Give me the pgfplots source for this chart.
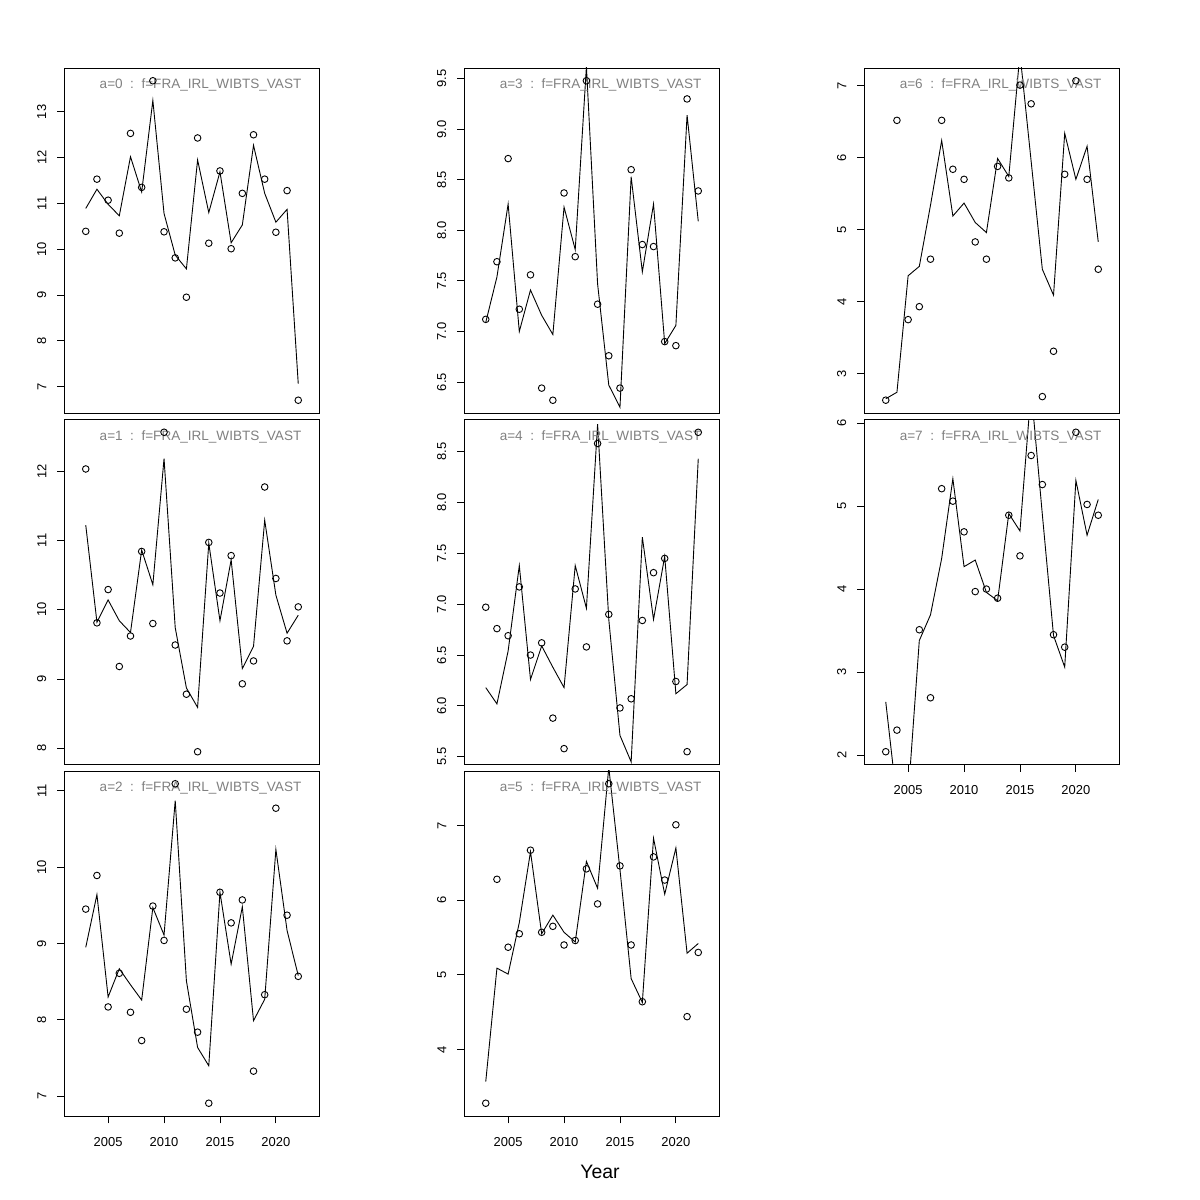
\documentclass[border=0pt]{standalone}
\usepackage{fontspec}
\setmainfont{Liberation Sans}
\usepackage{pgfplots}
\usepackage{pgfplotstable}
\pgfplotsset{compat=1.18}

\pgfplotstableread{
year obs fit
2003 10.39 10.89
2004 11.53 11.31
2005 11.07 10.98
2006 10.35 10.73
2007 12.53 12.02
2008 11.35 11.25
2009 13.68 13.25
2010 10.38 10.78
2011 9.81 9.87
2012 8.95 9.57
2013 12.43 11.95
2014 10.13 10.80
2015 11.71 11.69
2016 10.01 10.14
2017 11.22 10.53
2018 12.50 12.27
2019 11.53 11.22
2020 10.37 10.59
2021 11.28 10.87
2022 6.70 7.06
}\tA

\pgfplotstableread{
year obs fit
2003 12.03 11.22
2004 9.81 9.82
2005 10.29 10.14
2006 9.18 9.84
2007 9.62 9.67
2008 10.84 10.86
2009 9.80 10.36
2010 12.56 12.18
2011 9.49 9.74
2012 8.78 8.87
2013 7.95 8.59
2014 10.97 10.96
2015 10.24 9.84
2016 10.78 10.72
2017 8.93 9.15
2018 9.26 9.47
2019 11.77 11.29
2020 10.45 10.21
2021 9.55 9.66
2022 10.04 9.92
}\tB

\pgfplotstableread{
year obs fit
2003 9.45 8.95
2004 9.89 9.64
2005 8.17 8.30
2006 8.61 8.67
2007 8.10 8.46
2008 7.73 8.26
2009 9.49 9.47
2010 9.04 9.11
2011 11.09 10.87
2012 8.14 8.51
2013 7.84 7.64
2014 6.91 7.40
2015 9.67 9.67
2016 9.27 8.73
2017 9.57 9.48
2018 7.33 7.99
2019 8.33 8.27
2020 10.77 10.23
2021 9.37 9.17
2022 8.57 8.58
}\tC

\pgfplotstableread{
year obs fit
2003 7.12 7.09
2004 7.69 7.54
2005 8.71 8.26
2006 7.22 7.00
2007 7.56 7.41
2008 6.44 7.16
2009 6.32 6.97
2010 8.37 8.23
2011 7.74 7.81
2012 9.48 9.62
2013 7.27 7.47
2014 6.76 6.47
2015 6.44 6.25
2016 8.60 8.53
2017 7.86 7.59
2018 7.84 8.26
2019 6.90 6.88
2020 6.86 7.06
2021 9.30 9.14
2022 8.39 8.09
}\tD

\pgfplotstableread{
year obs fit
2003 6.97 6.18
2004 6.76 6.02
2005 6.69 6.54
2006 7.17 7.38
2007 6.50 6.26
2008 6.62 6.59
2009 5.88 6.38
2010 5.58 6.18
2011 7.15 7.38
2012 6.58 6.96
2013 8.58 8.77
2014 6.90 6.85
2015 5.98 5.71
2016 6.07 5.45
2017 6.84 7.66
2018 7.31 6.85
2019 7.45 7.47
2020 6.24 6.12
2021 5.55 6.21
2022 8.69 8.43
}\tE

\pgfplotstableread{
year obs fit
2003 3.28 3.57
2004 6.28 5.09
2005 5.37 5.01
2006 5.55 5.70
2007 6.67 6.65
2008 5.57 5.55
2009 5.65 5.80
2010 5.40 5.57
2011 5.46 5.44
2012 6.42 6.52
2013 5.95 6.16
2014 7.56 7.78
2015 6.46 6.41
2016 5.40 4.95
2017 4.64 4.63
2018 6.58 6.83
2019 6.27 6.08
2020 7.01 6.70
2021 4.44 5.29
2022 5.30 5.42
}\tF

\pgfplotstableread{
year obs fit
2003 2.63 2.65
2004 6.52 2.74
2005 3.75 4.36
2006 3.93 4.49
2007 4.59 5.34
2008 6.52 6.24
2009 5.84 5.19
2010 5.70 5.37
2011 4.83 5.10
2012 4.59 4.96
2013 5.88 5.99
2014 5.72 5.74
2015 7.01 7.45
2016 6.75 5.95
2017 2.68 4.45
2018 3.31 4.09
2019 5.77 6.34
2020 7.07 5.70
2021 5.70 6.16
2022 4.45 4.83
}\tG

\pgfplotstableread{
year obs fit
2003 2.04 2.64
2004 2.30 1.45
2005 nan 1.50
2006 3.51 3.38
2007 2.69 3.69
2008 5.21 4.37
2009 5.06 5.33
2010 4.69 4.27
2011 3.97 4.35
2012 4.00 3.96
2013 3.89 3.86
2014 4.89 4.91
2015 4.40 4.70
2016 5.61 6.40
2017 5.26 4.90
2018 3.45 3.44
2019 3.30 3.06
2020 5.89 5.31
2021 5.02 4.65
2022 4.89 5.08
}\tH

\pgfplotsset{
  panel/.style={
    scale only axis, width=255bp, height=345bp,
    anchor=south west,
    xmin=2001.1, xmax=2023.9,
    axis line style={line width=0.9bp, black},
    tick align=outside, major tick length=7.5bp,
    every tick/.style={black, line width=0.9bp},
    xtick=\empty,
    xtick pos=lower, ytick pos=lower,
    /pgf/number format/assume math mode=true,
    /pgf/number format/1000 sep={},
    ticklabel style={font=\fontsize{13}{15}\selectfont},
    yticklabel style={rotate=90, anchor=south, inner sep=0pt},
    yticklabel shift=10.5bp,
    clip=true,
  },
  bottomx/.style={
    xtick={2005,2010,2015,2020},
    xticklabel style={anchor=north, inner sep=0pt},
    xticklabel shift=13.5bp,
  },
  fitline/.style={black, line width=0.9bp, no marks},
  obspts/.style={only marks, mark=o, mark size=3.3bp, mark options={line width=0.9bp, black}},
}
\newcommand{\paneltitle}[1]{\node[anchor=base east, inner sep=0pt, text=black!50, font=\fontsize{13.6}{15}\selectfont, xshift=-18bp, yshift=-21bp] at (rel axis cs:1,1) {a=#1\ \ :\ \ f=FRA\_IRL\_WIBTS\_VAST};}

\begin{document}
\begin{tikzpicture}
\path[use as bounding box] (0,0) rectangle (1200bp,1200bp);

% column 1
\begin{axis}[panel, at={(64.5bp,787bp)}, ymin=6.421, ymax=13.959, ytick={7,8,...,13}]
\addplot[fitline] table[x=year,y=fit]{\tA};
\addplot[obspts] table[x=year,y=obs]{\tA};
\paneltitle{0}
\end{axis}
\begin{axis}[panel, at={(64.5bp,435.5bp)}, ymin=7.766, ymax=12.744, ytick={8,9,...,12}]
\addplot[fitline] table[x=year,y=fit]{\tB};
\addplot[obspts] table[x=year,y=obs]{\tB};
\paneltitle{1}
\end{axis}
\begin{axis}[panel, bottomx, at={(64.5bp,84bp)}, ymin=6.743, ymax=11.257, ytick={7,8,...,11}]
\addplot[fitline] table[x=year,y=fit]{\tC};
\addplot[obspts] table[x=year,y=obs]{\tC};
\paneltitle{2}
\end{axis}

% column 2
\begin{axis}[panel, at={(464.5bp,787bp)}, ymin=6.194, ymax=9.606, ytick={6.5,7,...,9.5},
  yticklabel style={/pgf/number format/.cd, fixed, fixed zerofill, precision=1}]
\addplot[fitline] table[x=year,y=fit]{\tD};
\addplot[obspts] table[x=year,y=obs]{\tD};
\paneltitle{3}
\end{axis}
\begin{axis}[panel, at={(464.5bp,435.5bp)}, ymin=5.424, ymax=8.816, ytick={5.5,6,...,8.5},
  yticklabel style={/pgf/number format/.cd, fixed, fixed zerofill, precision=1}]
\addplot[fitline] table[x=year,y=fit]{\tE};
\addplot[obspts] table[x=year,y=obs]{\tE};
\paneltitle{4}
\end{axis}
\begin{axis}[panel, bottomx, at={(464.5bp,84bp)}, ymin=3.109, ymax=7.731, ytick={4,5,6,7}]
\addplot[fitline] table[x=year,y=fit]{\tF};
\addplot[obspts] table[x=year,y=obs]{\tF};
\paneltitle{5}
\end{axis}

% column 3
\begin{axis}[panel, at={(864.5bp,787bp)}, ymin=2.452, ymax=7.248, ytick={3,4,...,7}]
\addplot[fitline] table[x=year,y=fit]{\tG};
\addplot[obspts] table[x=year,y=obs]{\tG};
\paneltitle{6}
\end{axis}
\begin{axis}[panel, bottomx, at={(864.5bp,435.5bp)}, ymin=1.886, ymax=6.044, ytick={2,3,...,6}]
\addplot[fitline] table[x=year,y=fit]{\tH};
\addplot[obspts] table[x=year,y=obs]{\tH};
\paneltitle{7}
\end{axis}

\node[anchor=base, inner sep=0pt, font=\fontsize{19.5}{21}\selectfont] at (600bp,21.7bp) {Year};
\end{tikzpicture}
\end{document}
